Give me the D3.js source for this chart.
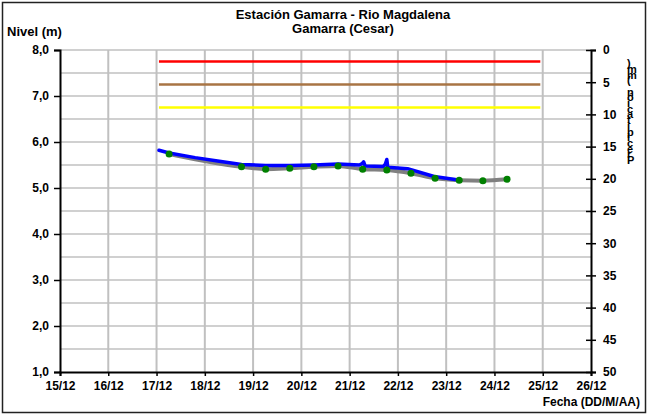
<!DOCTYPE html>
<html>
<head>
<meta charset="utf-8">
<script src="https://cdn.jsdelivr.net/npm/d3@7"></script>
<style>
body{margin:0;background:#fff;}
svg text{font-family:"Liberation Sans",Arial,sans-serif;font-weight:bold;fill:#000;}
</style>
</head>
<body>
<script>
// fechas en dias de diciembre (fraccion = hora del dia)
let dayTicks=[15,16,17,18,19,20,21,22,23,24,25,26];
let dayLabels=["15/12","16/12","17/12","18/12","19/12","20/12","21/12","22/12","23/12","24/12","25/12","26/12"];
let levelTicks=[1,2,3,4,5,6,7,8];
let rainTicks=[0,5,10,15,20,25,30,35,40,45,50];

// nivel sensor (linea azul)
let sensorDays=[17.05,17.26,17.8,18.3,18.76,19.26,19.76,20.26,20.76,21.2,21.26,21.29,21.32,21.7,21.74,21.77,21.79,22.2,22.75,23.22];
let sensorLevels=[5.82,5.76,5.66,5.58,5.51,5.49,5.49,5.50,5.52,5.50,5.53,5.57,5.48,5.47,5.52,5.62,5.45,5.42,5.25,5.18];
// lecturas de mira (puntos verdes + linea gris)
let obsDays=[17.26,18.76,19.26,19.76,20.26,20.76,21.27,21.77,22.27,22.77,23.27,23.76,24.26];
let obsLevels=[5.74,5.46,5.41,5.43,5.46,5.48,5.41,5.39,5.32,5.21,5.17,5.16,5.19];
// umbrales
let alertNames=["roja","naranja","amarilla"];
let alertLevels=[7.75,7.25,6.75];
let alertColors=["#ff0000","#a87444","#ffff00"];
let alertSpan=[17.05,24.95];

let W=648,H=416;
let pL=60,pR=591,pT=50,pB=372;

let svg=d3.select("body").append("svg").attr("width",W).attr("height",H);
svg.append("rect").attr("x",2.5).attr("y",2.5).attr("width",W-5).attr("height",H-6)
    .attr("fill","#fff").attr("stroke","#222").attr("stroke-width",1.5);

let x=d3.scaleLinear().domain([15,26]).range([pL,pR]);
let y=d3.scaleLinear().domain([1,8]).range([pB,pT]);
let y2=d3.scaleLinear().domain([0,50]).range([pT,pB]);

// rejilla
let g=svg.append("g");
g.selectAll("line.h").data(d3.range(1.5,8.01,0.5)).enter().append("line")
    .attr("x1",pL).attr("x2",pR).attr("y1",d=>y(d)).attr("y2",d=>y(d))
    .attr("stroke","#c0c0c0").attr("stroke-width",1.5);
g.selectAll("line.v").data(dayTicks.slice(1,-1)).enter().append("line")
    .attr("x1",d=>x(d)).attr("x2",d=>x(d)).attr("y1",pT).attr("y2",pB)
    .attr("stroke","#c0c0c0").attr("stroke-width",2);

// umbrales
svg.selectAll("line.alert").data(alertLevels).enter().append("line")
    .attr("x1",x(alertSpan[0])).attr("x2",x(alertSpan[1]))
    .attr("y1",d=>y(d)).attr("y2",d=>y(d))
    .attr("stroke",(d,i)=>alertColors[i]).attr("stroke-width",2.5);

// ejes
let fmtLevel=d=>d3.format(".1f")(d).replace(".",",");
let axL=svg.append("g").attr("transform",`translate(${pL},0)`)
    .call(d3.axisLeft(y).tickValues(levelTicks).tickFormat(fmtLevel).tickSize(6).tickPadding(5));
let axR=svg.append("g").attr("transform",`translate(${pR},0)`)
    .call(d3.axisRight(y2).tickValues(rainTicks).tickSize(5).tickPadding(7));
axR.selectAll(".tick line").attr("x1",-5);
let axB=svg.append("g").attr("transform",`translate(0,${pB})`)
    .call(d3.axisBottom(x).tickValues(dayTicks).tickFormat((d,i)=>dayLabels[i]).tickSize(4).tickPadding(5));
[axL,axR,axB].forEach(a=>{
    a.select(".domain").attr("stroke","#000").attr("stroke-width",2);
    a.selectAll(".tick line").attr("stroke","#000").attr("stroke-width",1.5);
    a.selectAll("text").style("font-size","12px").style("font-family","'Liberation Sans',Arial,sans-serif").style("font-weight","bold").attr("fill","#000");
});

// series
let line=d3.line().x(d=>x(d[0])).y(d=>y(d[1])).curve(d3.curveMonotoneX);
let obs=obsDays.map((d,i)=>[d,obsLevels[i]]);
let sensor=sensorDays.map((d,i)=>[d,sensorLevels[i]]);
svg.append("path").attr("d",line(obs)).attr("fill","none").attr("stroke","#808080").attr("stroke-width",4);
svg.append("path").attr("d",d3.line().x(d=>x(d[0])).y(d=>y(d[1]))(sensor))
    .attr("fill","none").attr("stroke","#0000ff").attr("stroke-width",3.5).attr("stroke-linejoin","round").attr("stroke-linecap","round");
svg.selectAll("circle").data(obs).enter().append("circle")
    .attr("cx",d=>x(d[0])).attr("cy",d=>y(d[1])).attr("r",3.5).attr("fill","#008000");

// textos
svg.append("text").attr("x",343).attr("y",19).attr("text-anchor","middle").style("font-size","13px")
    .text("Estación Gamarra - Rio Magdalena");
svg.append("text").attr("x",343).attr("y",33).attr("text-anchor","middle").style("font-size","13px")
    .text("Gamarra (Cesar)");
svg.append("text").attr("x",7).attr("y",36).style("font-size","13px").text("Nivel (m)");
svg.append("text").attr("x",640).attr("y",406).attr("text-anchor","end").style("font-size","12px").text("Fecha (DD/M/AA)");

// titulo eje derecho: letras apiladas de abajo hacia arriba
let rainTitle=Array.from("Precipitación (mm)");
svg.selectAll("text.rt").data(rainTitle).enter().append("text")
    .attr("x",627).attr("y",(d,i)=>164-i*5.7).style("font-size","11px").text(d=>d);
</script>
</body>
</html>
